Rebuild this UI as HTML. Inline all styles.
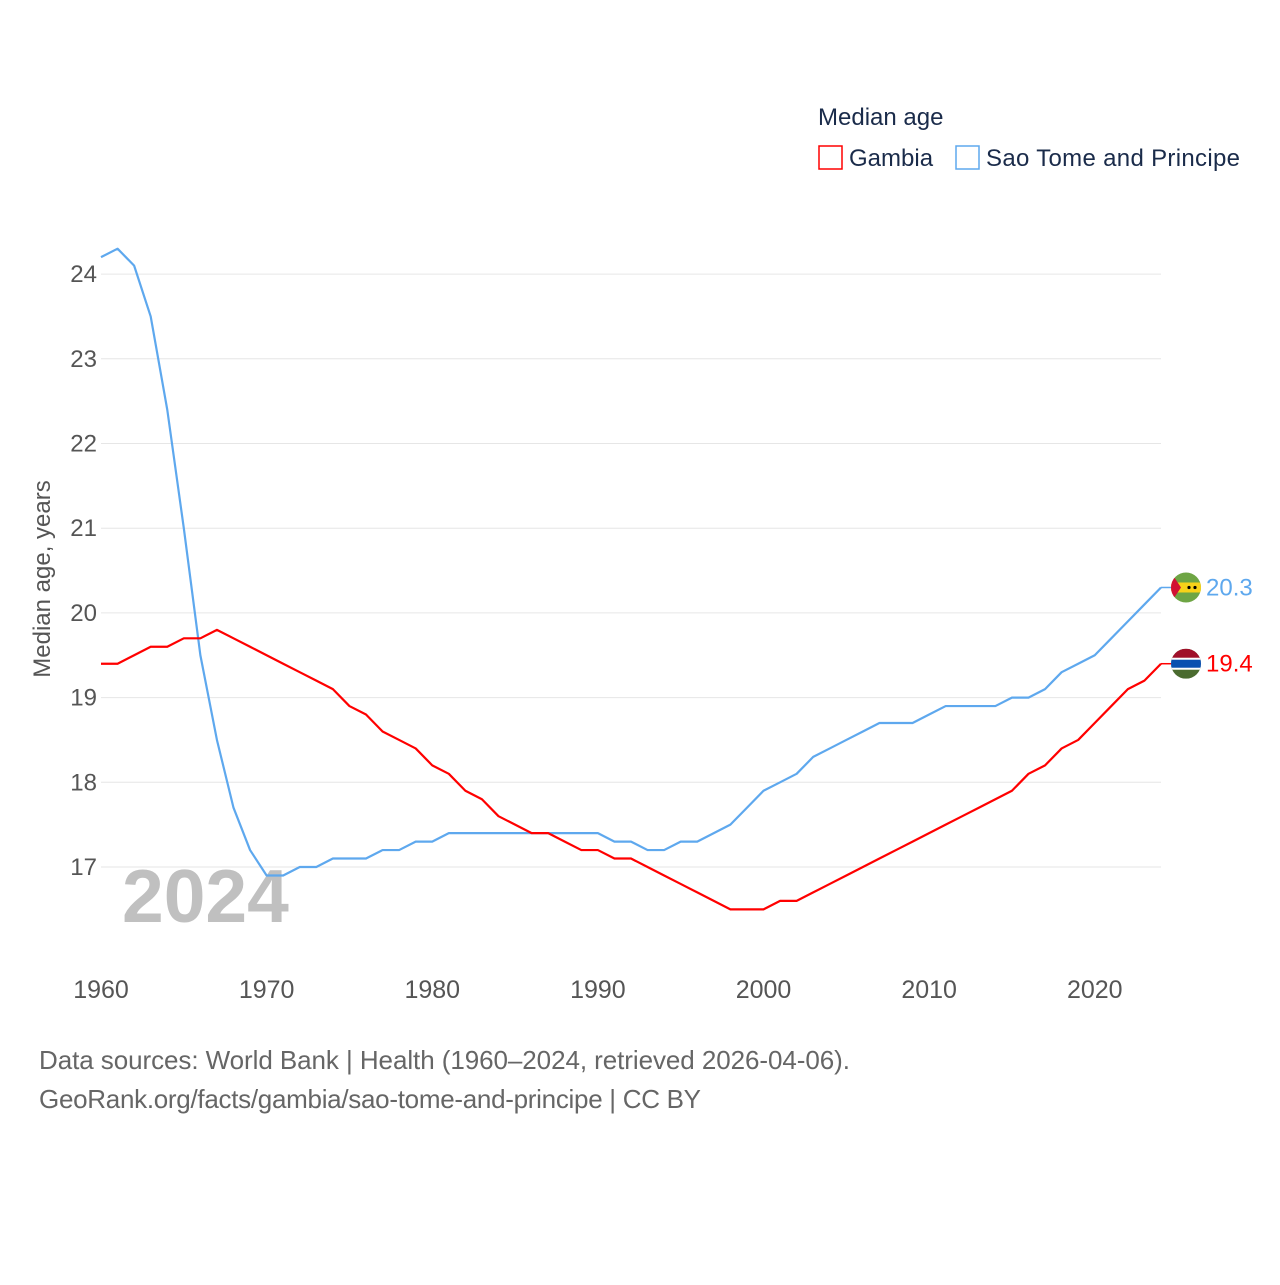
<!DOCTYPE html>
<html><head><meta charset="utf-8"><style>
body{margin:0;background:#fff;font-family:"Liberation Sans",sans-serif}
svg text{font-family:"Liberation Sans",sans-serif}
</style></head><body>
<svg id="chart" width="1280" height="1280">
<text x="818" y="125" font-size="24" fill="#1a2b4a">Median age</text>
<g><rect x="819" y="146" width="23" height="23" fill="none" stroke="#ff0000" stroke-width="1.5"/><text x="849" y="166" font-size="24" fill="#1a2b4a">Gambia</text></g>
<g><rect x="956" y="146" width="23" height="23" fill="none" stroke="#5ea8ee" stroke-width="1.5"/><text x="986" y="166" font-size="24" fill="#1a2b4a" textLength="254">Sao Tome and Principe</text></g>
<g id="grid"></g><g id="yticks"></g><g id="xticks"></g>
<text x="122" y="922" font-size="75" font-weight="bold" fill="#c0c0c0">2024</text>
<text transform="translate(50,579) rotate(-90)" text-anchor="middle" font-size="24" fill="#555">Median age, years</text>
<g id="lines"></g>
<text x="39" y="1069" font-size="26" fill="#666" textLength="811">Data sources: World Bank | Health (1960–2024, retrieved 2026-04-06).</text>
<text x="39" y="1108" font-size="26" fill="#666" textLength="662">GeoRank.org/facts/gambia/sao-tome-and-principe | CC BY</text>
</svg>
<script>
const years=[];for(let y=1960;y<=2024;y++)years.push(y);
const gambia=[19.4,19.4,19.5,19.6,19.6,19.7,19.7,19.8,19.7,19.6,19.5,19.4,19.3,19.2,19.1,18.9,18.8,18.6,18.5,18.4,18.2,18.1,17.9,17.8,17.6,17.5,17.4,17.4,17.3,17.2,17.2,17.1,17.1,17.0,16.9,16.8,16.7,16.6,16.5,16.5,16.5,16.6,16.6,16.7,16.8,16.9,17.0,17.1,17.2,17.3,17.4,17.5,17.6,17.7,17.8,17.9,18.1,18.2,18.4,18.5,18.7,18.9,19.1,19.2,19.4];
const saoTome=[24.2,24.3,24.1,23.5,22.4,21.0,19.5,18.5,17.7,17.2,16.9,16.9,17.0,17.0,17.1,17.1,17.1,17.2,17.2,17.3,17.3,17.4,17.4,17.4,17.4,17.4,17.4,17.4,17.4,17.4,17.4,17.3,17.3,17.2,17.2,17.3,17.3,17.4,17.5,17.7,17.9,18.0,18.1,18.3,18.4,18.5,18.6,18.7,18.7,18.7,18.8,18.9,18.9,18.9,18.9,19.0,19.0,19.1,19.3,19.4,19.5,19.7,19.9,20.1,20.3];
const yTicks=[17,18,19,20,21,22,23,24];
const xTicks=[1960,1970,1980,1990,2000,2010,2020];
const NS='http://www.w3.org/2000/svg';
const X=v=>101+(v-1960)*(1161-101)/64;
const Y=v=>867-(v-17)*84.7;
function mk(t,a,p){const e=document.createElementNS(NS,t);for(const k in a)e.setAttribute(k,a[k]);p.appendChild(e);return e;}
const grid=document.getElementById('grid'),yt=document.getElementById('yticks'),xt=document.getElementById('xticks'),lines=document.getElementById('lines');
yTicks.forEach(v=>{
 const l=mk('line',{x1:101,x2:1161,y1:Y(v),y2:Y(v),stroke:'#e6e6e6','stroke-width':1},grid);
 
 
 const t=mk('text',{x:97,y:Y(v)+8,'text-anchor':'end','font-size':24,fill:'#555'},yt);t.textContent=v;
 
 
});
xTicks.forEach(v=>{
 const t=mk('text',{x:X(v),y:998,'text-anchor':'middle','font-size':25,fill:'#555'},xt);t.textContent=v;
 
 
});
function series(vals,color,name){
 const p=mk('polyline',{points:vals.map((v,i)=>X(years[i])+','+Y(v)).join(' '),fill:'none',stroke:color,'stroke-width':2.2,'stroke-linejoin':'round'},lines);
 
 
 const last=vals[vals.length-1],ly=Y(last),lx=X(years[years.length-1]);
 const s=mk('line',{x1:lx,x2:lx+10,y1:ly,y2:ly,stroke:color,'stroke-width':1.5},lines);
 
 
 const t=mk('text',{x:1206,y:ly+8,'font-size':24,fill:color},lines);t.textContent=last.toFixed(1);
 
 
 return ly;
}
const sy=series(saoTome,'#5ea8ee','sao-tome');
const gy=series(gambia,'#ff0000','gambia');
const cx=1186,r=15;
let g=mk('g',{},lines);


mk('clipPath',{id:'c1'},g);mk('circle',{cx:cx,cy:sy,r:r},g.lastChild);
const f1=mk('g',{'clip-path':'url(#c1)'},g);
mk('rect',{x:cx-r,y:sy-r,width:2*r,height:2*r,fill:'#6ea544'},f1);
mk('rect',{x:cx-r,y:sy-5,width:2*r,height:10,fill:'#f7d219'},f1);
mk('polygon',{points:`${cx-r},${sy-r} ${cx-r+10},${sy} ${cx-r},${sy+r}`,fill:'#d21034'},f1);
mk('circle',{cx:cx+3,cy:sy,r:1.6,fill:'#000'},f1);mk('circle',{cx:cx+9,cy:sy,r:1.6,fill:'#000'},f1);
g=mk('g',{},lines);


mk('clipPath',{id:'c2'},g);mk('circle',{cx:cx,cy:gy,r:r},g.lastChild);
const f2=mk('g',{'clip-path':'url(#c2)'},g);
mk('rect',{x:cx-r,y:gy-r,width:2*r,height:2*r,fill:'#4a6b2f'},f2);
mk('rect',{x:cx-r,y:gy-r,width:2*r,height:r-4,fill:'#a0102a'},f2);
mk('rect',{x:cx-r,y:gy-6,width:2*r,height:12,fill:'#fff'},f2);
mk('rect',{x:cx-r,y:gy-4,width:2*r,height:8,fill:'#0a50b0'},f2);
</script>
</body></html>
